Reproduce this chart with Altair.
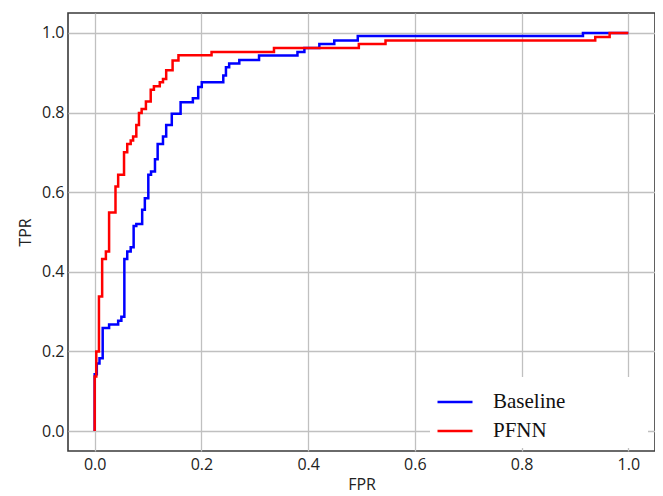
import altair as alt
import pandas as pd

series_names = ["Baseline", "PFNN"]
series_colors = ["#0000ff", "#ff0000"]

baseline_fpr = [0.0, 0.0, 0.004, 0.009, 0.015, 0.027, 0.044, 0.050, 0.0556, 0.061,
                0.0675, 0.073, 0.078, 0.089, 0.094, 0.1005, 0.1056, 0.113, 0.118, 0.128,
                0.134, 0.1445, 0.161, 0.184, 0.194, 0.2007, 0.241, 0.246, 0.252, 0.271,
                0.308, 0.380, 0.393, 0.421, 0.449, 0.493, 0.915, 1.0]
baseline_tpr = [0.0, 0.143, 0.170, 0.183, 0.259, 0.268, 0.277, 0.287, 0.432, 0.451,
                0.462, 0.515, 0.520, 0.556, 0.585, 0.644, 0.652, 0.683, 0.721, 0.740,
                0.769, 0.797, 0.826, 0.836, 0.864, 0.876, 0.893, 0.914, 0.923, 0.932,
                0.943, 0.952, 0.962, 0.972, 0.981, 0.992, 1.0, 1.0]

pfnn_fpr = [0.0, 0.0, 0.003, 0.008, 0.014, 0.021, 0.027, 0.039, 0.044, 0.055,
            0.061, 0.0675, 0.072, 0.078, 0.083, 0.088, 0.096, 0.105, 0.111, 0.122,
            0.128, 0.134, 0.146, 0.157, 0.219, 0.336, 0.495, 0.545, 0.938, 0.965, 1.0]
pfnn_tpr = [0.0, 0.137, 0.200, 0.338, 0.432, 0.451, 0.549, 0.614, 0.644, 0.700,
            0.721, 0.730, 0.740, 0.769, 0.799, 0.809, 0.828, 0.857, 0.866, 0.876,
            0.884, 0.906, 0.931, 0.944, 0.952, 0.962, 0.972, 0.981, 0.990, 1.0, 1.0]

x_ticks = [0.0, 0.2, 0.4, 0.6, 0.8, 1.0]
y_ticks = [0.0, 0.2, 0.4, 0.6, 0.8, 1.0]

rows = []
for name, fpr, tpr in [("Baseline", baseline_fpr, baseline_tpr), ("PFNN", pfnn_fpr, pfnn_tpr)]:
    for i, (f, t) in enumerate(zip(fpr, tpr)):
        rows.append({"model": name, "fpr": f, "tpr": t, "idx": i})
df = pd.DataFrame(rows)

# invisible, non-whitespace filler so the white legend box reaches further right
filler = "\u2800" * 5
color = alt.Color(
    "model:N",
    scale=alt.Scale(domain=series_names, range=series_colors),
    legend=alt.Legend(
        title=None, orient="none", legendX=362, legendY=364,
        symbolType="stroke", symbolSize=1225, symbolStrokeWidth=2.5,
        labelFont="Liberation Serif", labelFontSize=21, labelColor="#111",
        labelOffset=19, labelLimit=400, padding=6, fillColor="white",
        strokeColor="white", rowPadding=-1,
        labelExpr="datum.label + '" + filler + "'",
    ),
)

x = alt.X("fpr:Q", scale=alt.Scale(domain=[-0.05, 1.05], nice=False, zero=False),
          axis=alt.Axis(values=x_ticks, format=".1f", title="FPR", labelPadding=5.5,
                        titlePadding=4))
y = alt.Y("tpr:Q", scale=alt.Scale(domain=[-0.05, 1.05], nice=False, zero=False),
          axis=alt.Axis(values=y_ticks, format=".1f", title="TPR", labelPadding=4,
                        titlePadding=8))

base = alt.Chart(df).mark_line(strokeWidth=2.5, interpolate="step-after").encode(
    x=x, y=y, color=color, order=alt.Order("idx:Q")
)

chart = alt.layer(
    base.transform_filter(alt.datum.model == "Baseline"),
    base.transform_filter(alt.datum.model == "PFNN"),
).properties(
    width=587, height=438,
    padding={"left": 60, "top": 5, "right": 0, "bottom": 44},
    autosize=alt.AutoSizeParams(type="none"),
).configure_axis(
    grid=True, gridColor="#c0c0c0", gridWidth=1.3, domain=False, ticks=False, tickSize=0,
    labelFont="Open Sans", labelFontSize=16, labelColor="#222",
    titleFont="Open Sans", titleFontSize=16, titleFontWeight="normal", titleColor="#222",
).configure_view(stroke="#3a3a3a", strokeWidth=1.6)

chart.save("out.html", embed_options={"renderer": "svg", "actions": False})
